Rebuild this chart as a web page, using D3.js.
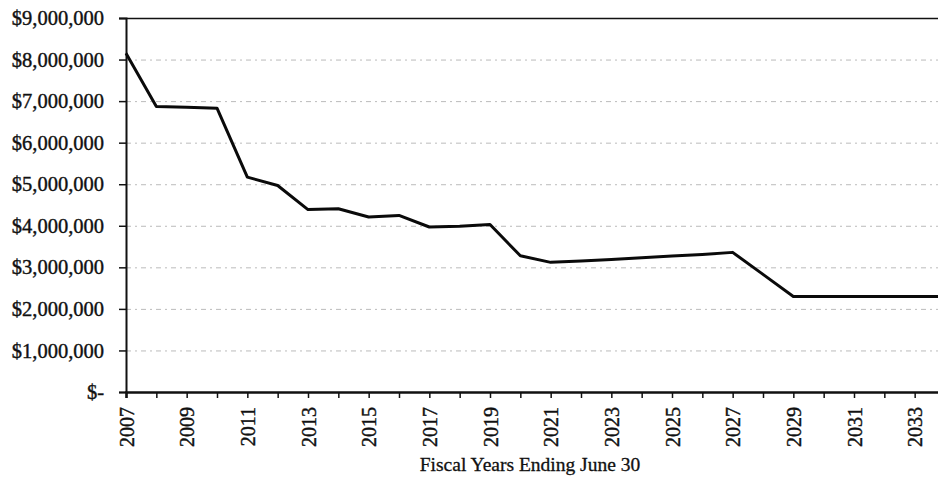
<!DOCTYPE html>
<html>
<head>
<meta charset="utf-8">
<script src="https://cdn.jsdelivr.net/npm/d3@7"></script>
<style>
  body { margin: 0; background: #fff; }
  text { font-family: "Liberation Serif", "Times New Roman", serif; fill: #111; }
</style>
</head>
<body>
<script>
// fiscal years and amounts
const years = [2007, 2008, 2009, 2010, 2011, 2012, 2013, 2014, 2015, 2016, 2017, 2018, 2019, 2020,
               2021, 2022, 2023, 2024, 2025, 2026, 2027, 2028, 2029, 2030, 2031, 2032, 2033, 2034];
const amounts = [8150000, 6870000, 6850000, 6830000, 5170000, 4970000, 4390000, 4410000, 4210000, 4250000,
                 3970000, 3990000, 4030000, 3280000, 3120000, 3150000, 3190000, 3230000, 3270000, 3310000,
                 3360000, 2830000, 2300000, 2300000, 2300000, 2300000, 2300000, 2300000];
const yTicks = [0, 1000000, 2000000, 3000000, 4000000, 5000000, 6000000, 7000000, 8000000, 9000000];
const xTitle = "Fiscal Years Ending June 30";

const data = years.map((y, i) => ({year: y, value: amounts[i]}));

const outerWidth = 938;
const outerHeight = 477;
const margin = {top: 18, left: 126, bottom: 85};

const svg = d3.select("body").append("svg")
    .attr("width", outerWidth)
    .attr("height", outerHeight);

// the last year runs just past the right edge, like in the picture
const xScale = d3.scaleLinear()
    .domain([2007, 2034])
    .range([margin.left, 945]);

const yScale = d3.scaleLinear()
    .domain([0, 9000000])
    .range([outerHeight - margin.bottom, margin.top]);

const fmt = d3.format(",");

// grid lines (faint, broken up like the scan)
svg.append("g")
    .selectAll("line")
    .data(yTicks.filter(d => d > 0))
    .join("line")
    .attr("x1", margin.left)
    .attr("x2", outerWidth)
    .attr("y1", d => yScale(d) + 0.5)
    .attr("y2", d => yScale(d) + 0.5)
    .attr("stroke", d => d === 9000000 ? "#111" : "#bbb")
    .attr("stroke-width", d => d === 9000000 ? 1.5 : 1)
    .attr("stroke-dasharray", d => d === 9000000 ? null : "5,4,2,4");

// y axis
const yAxis = d3.axisLeft(yScale)
    .tickValues(yTicks)
    .tickSize(7)
    .tickPadding(15)
    .tickFormat(d => d === 0 ? "$-" : "$" + fmt(d));

const gy = svg.append("g")
    .attr("transform", `translate(${margin.left},0)`)
    .call(yAxis);
gy.select(".domain").attr("stroke", "#111").attr("stroke-width", 2);
gy.selectAll(".tick line").attr("stroke", "#111").attr("stroke-width", 1.5);
gy.selectAll(".tick text")
    .style("font-size", "20.5px")
    .attr("fill", "#111")
    .attr("stroke", "#111")
    .attr("stroke-width", 0.4);

// x axis
const xAxis = d3.axisBottom(xScale)
    .tickValues(years)
    .tickSize(6)
    .tickFormat(d => (d - 2007) % 2 === 0 ? d : "");

const gx = svg.append("g")
    .attr("transform", `translate(0,${outerHeight - margin.bottom})`)
    .call(xAxis);
gx.select(".domain").attr("stroke", "#111").attr("stroke-width", 2.5);
gx.selectAll(".tick line").attr("stroke", "#111").attr("stroke-width", 1.5);
gx.selectAll(".tick text")
    .style("font-size", "20px")
    .attr("fill", "#111")
    .attr("stroke", "#111")
    .attr("stroke-width", 0.4)
    .attr("transform", "rotate(-90)")
    .attr("text-anchor", "end")
    .attr("x", -15)
    .attr("y", 0)
    .attr("dy", "0.35em");

// the line
const line = d3.line()
    .x(d => xScale(d.year))
    .y(d => yScale(d.value));

svg.append("path")
    .datum(data)
    .attr("fill", "none")
    .attr("stroke", "#0a0a0a")
    .attr("stroke-width", 3)
    .attr("stroke-linejoin", "round")
    .attr("d", line);

// axis title
svg.append("text")
    .attr("x", 530)
    .attr("y", 471)
    .attr("text-anchor", "middle")
    .style("font-size", "19.5px")
    .attr("stroke", "#111")
    .attr("stroke-width", 0.3)
    .text(xTitle);
</script>
</body>
</html>
